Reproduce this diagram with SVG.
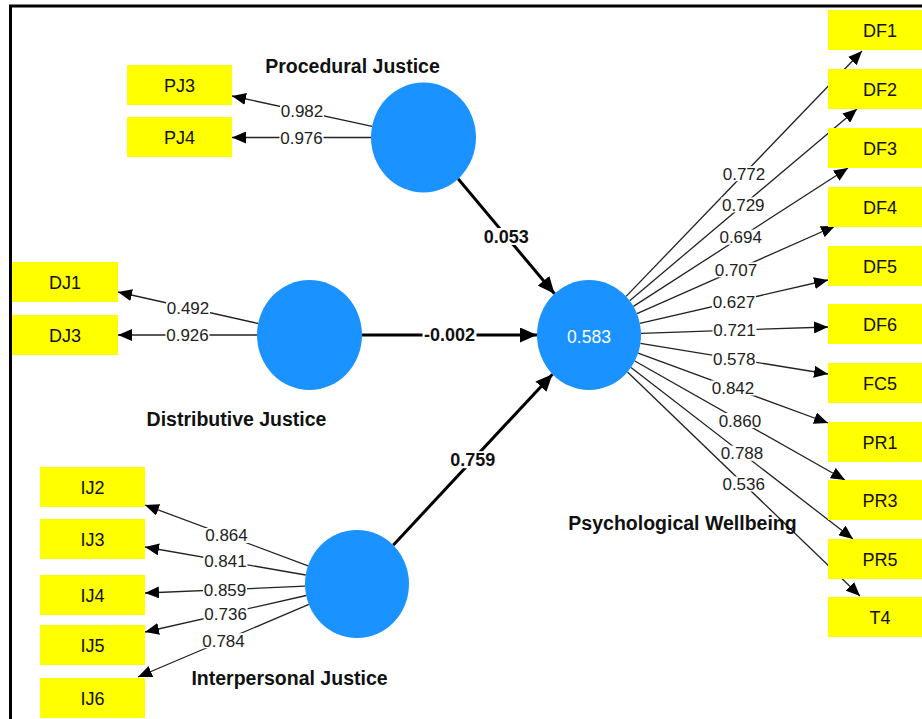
<svg xmlns="http://www.w3.org/2000/svg" width="922" height="719" viewBox="0 0 922 719">
<style>
.ind rect{fill:#ffff00}
.ind text{font-family:"Liberation Sans",Arial,sans-serif;font-size:18px;fill:#111;text-anchor:middle}
.lv ellipse{fill:#1a92ff}
.title{font-family:"Liberation Sans",Arial,sans-serif;font-size:19.5px;font-weight:bold;fill:#111;text-anchor:middle}
.m{stroke:#222;stroke-width:1.3;fill:none;marker-end:url(#as)}
.s{stroke:#000;stroke-width:3;fill:none;marker-end:url(#al)}
.lb rect{fill:#fff}
.lb text{font-family:"Liberation Sans",Arial,sans-serif;font-size:17px;fill:#222;text-anchor:middle}
.lb text.b{font-weight:bold;font-size:18px;fill:#111}
</style>
<defs>
<marker id="as" markerUnits="userSpaceOnUse" markerWidth="14" markerHeight="12" refX="14" refY="6" orient="auto"><path d="M0,0 L14,6 L0,12 z" fill="#000"/></marker>
<marker id="al" markerUnits="userSpaceOnUse" markerWidth="17" markerHeight="15" refX="17" refY="7.5" orient="auto"><path d="M0,0 L17,7.5 L0,15 z" fill="#000"/></marker>
</defs>
<rect width="922" height="719" fill="#fff"/>
<g id="frame" stroke="#000" stroke-width="3">
<line x1="9" y1="6" x2="922" y2="6"/>
<line x1="10.5" y1="5" x2="10.5" y2="719"/>
</g>

<g id="connectors">
<line class="m" x1="372.1" y1="126.4" x2="232" y2="96"/>
<line class="m" x1="371" y1="137.5" x2="232" y2="137.5"/>
<line class="m" x1="258.2" y1="323.5" x2="118" y2="292"/>
<line class="m" x1="257" y1="335" x2="118" y2="335"/>
<line class="m" x1="308.1" y1="565.8" x2="145" y2="505"/>
<line class="m" x1="305.7" y1="575" x2="145" y2="547"/>
<line class="m" x1="305" y1="586.2" x2="145" y2="593"/>
<line class="m" x1="306.2" y1="595.5" x2="145" y2="632"/>
<line class="m" x1="308.9" y1="604.4" x2="138" y2="677"/>
<line class="m" x1="626.1" y1="296.4" x2="862" y2="51"/>
<line class="m" x1="629.7" y1="300.7" x2="857" y2="109"/>
<line class="m" x1="633.4" y1="306.4" x2="848" y2="168"/>
<line class="m" x1="637" y1="313.7" x2="835" y2="226"/>
<line class="m" x1="639.8" y1="323.3" x2="828" y2="280"/>
<line class="m" x1="641" y1="333.3" x2="828" y2="327"/>
<line class="m" x1="640.4" y1="343.4" x2="828" y2="374"/>
<line class="m" x1="638.1" y1="353.1" x2="828" y2="423"/>
<line class="m" x1="634.8" y1="361" x2="845" y2="480"/>
<line class="m" x1="631" y1="367.4" x2="853" y2="539"/>
<line class="m" x1="627.5" y1="372" x2="860" y2="596"/>
<line class="s" x1="458.1" y1="178.8" x2="554.5" y2="293.8"/>
<line class="s" x1="362" y1="335" x2="537" y2="335"/>
<line class="s" x1="393.2" y1="545.2" x2="552.5" y2="374.2"/>
<g class="lb">
<rect x="280" y="104" width="44" height="15"/><text x="302" y="117.2">0.982</text>
<rect x="279.5" y="130" width="44" height="15"/><text x="301.5" y="143.5">0.976</text>
<rect x="166" y="300.3" width="44" height="15"/><text x="188" y="313.8">0.492</text>
<rect x="165.5" y="327.5" width="44" height="15"/><text x="187.5" y="341">0.926</text>
<rect x="204.5" y="528" width="44" height="15"/><text x="226.5" y="541.4">0.864</text>
<rect x="203.4" y="553.5" width="44" height="15"/><text x="225.4" y="567">0.841</text>
<rect x="203" y="582" width="44" height="15"/><text x="225" y="595.6">0.859</text>
<rect x="203.6" y="606.3" width="44" height="15"/><text x="225.6" y="619.8">0.736</text>
<rect x="201.5" y="633.2" width="44" height="15"/><text x="223.5" y="646.7">0.784</text>
<rect x="722" y="166.2" width="44" height="15"/><text x="744" y="179.7">0.772</text>
<rect x="721.3" y="197.3" width="44" height="15"/><text x="743.3" y="210.8">0.729</text>
<rect x="718.7" y="229.7" width="44" height="15"/><text x="740.7" y="243.2">0.694</text>
<rect x="714" y="262.3" width="44" height="15"/><text x="736" y="275.8">0.707</text>
<rect x="711.9" y="294.2" width="44" height="15"/><text x="733.9" y="307.7">0.627</text>
<rect x="712.5" y="322.6" width="44" height="15"/><text x="734.5" y="336.1">0.721</text>
<rect x="712.2" y="351.2" width="44" height="15"/><text x="734.2" y="364.7">0.578</text>
<rect x="711" y="380.5" width="44" height="15"/><text x="733" y="394">0.842</text>
<rect x="717.9" y="413" width="44" height="15"/><text x="739.9" y="426.5">0.860</text>
<rect x="720" y="445.7" width="44" height="15"/><text x="742" y="459.2">0.788</text>
<rect x="721.7" y="476.5" width="44" height="15"/><text x="743.7" y="490">0.536</text>
<rect x="482.3" y="228" width="48" height="17"/><text class="b" x="506.3" y="242.6">0.053</text>
<rect x="422.5" y="326.5" width="54" height="17"/><text class="b" x="449.5" y="341.3">-0.002</text>
<rect x="448.8" y="451.2" width="48" height="17"/><text class="b" x="472.8" y="466">0.759</text>
</g>
</g>

<g id="PJ" class="lv"><ellipse cx="423.5" cy="137.5" rx="52.5" ry="55"/><text class="title" x="352.5" y="73">Procedural Justice</text></g>
<g id="DJ" class="lv"><ellipse cx="309.5" cy="335" rx="52.5" ry="55"/><text class="title" x="236.5" y="426">Distributive Justice</text></g>
<g id="IJ" class="lv"><ellipse cx="357" cy="584" rx="52" ry="54"/><text class="title" x="289.5" y="685">Interpersonal Justice</text></g>
<g id="PW" class="lv"><ellipse cx="589" cy="335" rx="52" ry="55"/><text x="589" y="343" font-family="Liberation Sans, Arial, sans-serif" font-size="17.5" fill="#fff" text-anchor="middle">0.583</text><text class="title" x="682.5" y="530">Psychological Wellbeing</text></g>

<g id="PJ3" class="ind"><rect x="127" y="65" width="105" height="40"/><text x="179.5" y="92">PJ3</text></g>
<g id="PJ4" class="ind"><rect x="127" y="117" width="105" height="40"/><text x="179.5" y="144">PJ4</text></g>
<g id="DJ1" class="ind"><rect x="12" y="262" width="106" height="40"/><text x="65" y="289">DJ1</text></g>
<g id="DJ3" class="ind"><rect x="12" y="315" width="106" height="40"/><text x="65" y="342">DJ3</text></g>
<g id="IJ2" class="ind"><rect x="40" y="467" width="105" height="40"/><text x="92.5" y="494">IJ2</text></g>
<g id="IJ3" class="ind"><rect x="40" y="519" width="105" height="40"/><text x="92.5" y="546">IJ3</text></g>
<g id="IJ4" class="ind"><rect x="40" y="575" width="105" height="40"/><text x="92.5" y="602">IJ4</text></g>
<g id="IJ5" class="ind"><rect x="40" y="625" width="105" height="40"/><text x="92.5" y="652">IJ5</text></g>
<g id="IJ6" class="ind"><rect x="40" y="678" width="105" height="40"/><text x="92.5" y="705">IJ6</text></g>
<g id="DF1" class="ind"><rect x="828" y="10" width="104" height="40"/><text x="880" y="37">DF1</text></g>
<g id="DF2" class="ind"><rect x="828" y="69" width="104" height="40"/><text x="880" y="96">DF2</text></g>
<g id="DF3" class="ind"><rect x="828" y="128" width="104" height="40"/><text x="880" y="155">DF3</text></g>
<g id="DF4" class="ind"><rect x="828" y="187" width="104" height="40"/><text x="880" y="214">DF4</text></g>
<g id="DF5" class="ind"><rect x="828" y="246" width="104" height="40"/><text x="880" y="273">DF5</text></g>
<g id="DF6" class="ind"><rect x="828" y="304" width="104" height="40"/><text x="880" y="331">DF6</text></g>
<g id="FC5" class="ind"><rect x="828" y="363" width="104" height="40"/><text x="880" y="390">FC5</text></g>
<g id="PR1" class="ind"><rect x="828" y="422" width="104" height="40"/><text x="880" y="449">PR1</text></g>
<g id="PR3" class="ind"><rect x="828" y="480" width="104" height="40"/><text x="880" y="507">PR3</text></g>
<g id="PR5" class="ind"><rect x="828" y="539" width="104" height="40"/><text x="880" y="566">PR5</text></g>
<g id="T4" class="ind"><rect x="828" y="597" width="104" height="40"/><text x="880" y="624">T4</text></g>
</svg>
